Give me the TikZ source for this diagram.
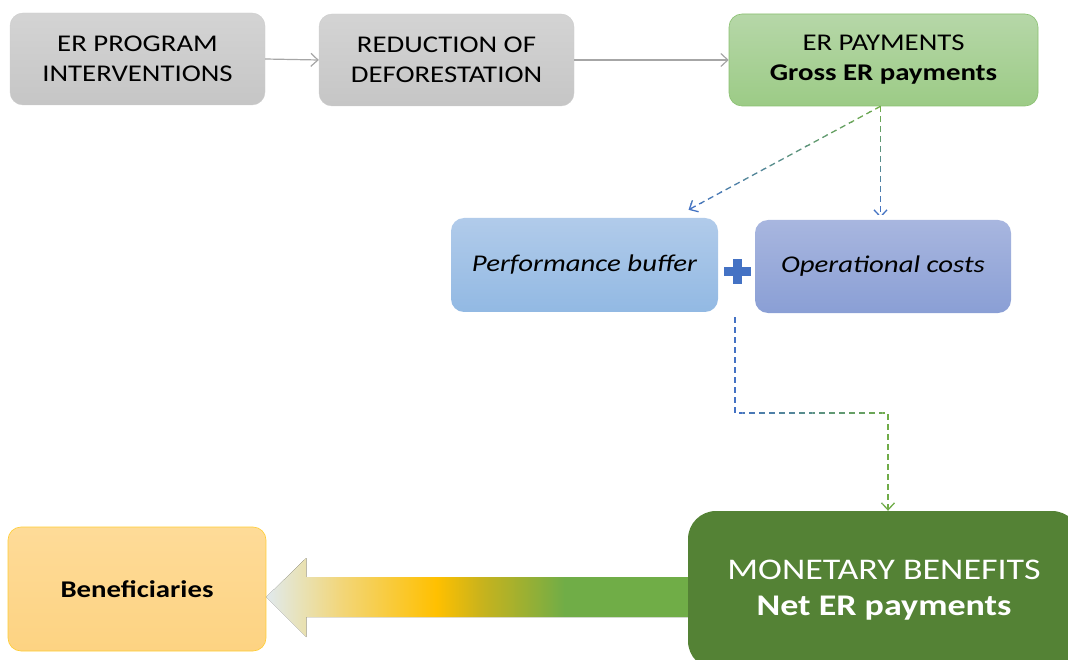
\documentclass[tikz,border=0pt]{standalone}
\usepackage{fontspec}
\setmainfont{Carlito}[FakeStretch=1.2]
\usetikzlibrary{arrows.meta,calc}
\definecolor{cgreen}{HTML}{70AD47}
\definecolor{cblue}{HTML}{4472C4}
\definecolor{cgray}{HTML}{A6A6A6}
\definecolor{darkgreen}{HTML}{548235}
\definecolor{ac1}{HTML}{E0E9EE}
\definecolor{ac2}{HTML}{E8E2B8}
\definecolor{ac3}{HTML}{F2D67A}
\definecolor{ac4}{HTML}{FFC000}
\definecolor{ac5}{HTML}{C9B31C}
\definecolor{ac6}{HTML}{A0B030}
\pgfdeclarehorizontalshading{arrowshade}{100bp}{color(0bp)=(ac1); color(25bp)=(ac1); color(28.9bp)=(ac2); color(33.6bp)=(ac3); color(44.7bp)=(ac4); color(49.8bp)=(ac5); color(54.4bp)=(ac6); color(59.5bp)=(cgreen); color(100bp)=(cgreen)}
\tikzset{
  box/.style={rounded corners=13pt, inner sep=0pt, align=center, text=black},
  graybox/.style={box, top color=gray!34, bottom color=gray!45, draw=gray!40, line width=0.4pt},
  greenbox/.style={box, top color={rgb,255:red,182;green,215;blue,168}, bottom color={rgb,255:red,156;green,203;blue,134}, draw={rgb,255:red,138;green,192;blue,112}, line width=0.6pt},
  bluebox/.style={box, top color={rgb,255:red,177;green,203;blue,234}, bottom color={rgb,255:red,146;green,185;blue,227}},
  purplebox/.style={box, top color={rgb,255:red,168;green,182;blue,223}, bottom color={rgb,255:red,138;green,159;blue,213}},
  yellowbox/.style={box, top color={rgb,255:red,254;green,219;blue,152}, bottom color={rgb,255:red,253;green,211;blue,130}, draw=ac4!80, line width=0.6pt},
  bigbox/.style={box, rounded corners=28pt, fill=darkgreen, text=white},
  solidcon/.style={draw=cgray, line width=1.2pt, -{Straight Barb[length=7pt,width=13pt]}},
  dashcon/.style={line width=1.3pt, dash pattern=on 6pt off 4pt, -{Straight Barb[length=7pt,width=13pt]}},
  txt/.style={font=\fontsize{24}{30}\selectfont},
}
\begin{document}
\begin{tikzpicture}[x=1pt,y=-1pt]
\useasboundingbox (0,0) rectangle (1068,660);
\node[graybox, txt, minimum width=255pt, minimum height=92pt] (A) at (137.5,59) {ER PROGRAM\\INTERVENTIONS};
\node[graybox, txt, minimum width=255pt, minimum height=92pt] (B) at (446.5,60) {REDUCTION OF\\DEFORESTATION};
\node[greenbox, txt, minimum width=309pt, minimum height=92pt] (C) at (883.5,60) {ER PAYMENTS\\\textbf{Gross ER payments}};
\node[bluebox, font=\fontsize{24}{29}\selectfont\itshape, minimum width=267pt, minimum height=94pt] (D) at (584.5,265) {Performance buffer};
\node[purplebox, font=\fontsize{24}{29}\selectfont\itshape, minimum width=256pt, minimum height=93pt] (E) at (883,266.5) {Operational costs};
% plus sign
\fill[cblue] (723.5,267.5) rectangle (750.5,276.5);
\fill[cblue] (732.5,259.5) rectangle (741.5,284.5);
\node[yellowbox, font=\fontsize{24}{29}\selectfont\bfseries, minimum width=258pt, minimum height=124pt] (G) at (137,589) {Beneficiaries};
% big arrow
\coordinate (tip) at ($(G.east)+(0,8)$);
\fill[shading=arrowshade] (tip) -- ++(40,-39) -- ++(0,19) -- ++(392,0) -- ++(0,40) -- ++(-392,0) -- ++(0,20) -- cycle;
\node[bigbox, font=\fontsize{30}{36}\selectfont, minimum width=392pt, minimum height=158pt] (F) at (884,590) {MONETARY BENEFITS\\\textbf{Net ER payments}};
% solid connectors
\draw[solidcon] (A.east) -- (B.west);
\draw[solidcon] (B.east) -- (C.west);
% dashed connectors with colour gradient
\coordinate (dtip) at ($(D.north)+(104,-8)$);
\coordinate (etip) at ($(C.south |- E.north)+(-3,-2)$);
\coordinate (cout) at ($(C.south)+(-3,0)$);
\foreach \i in {0,...,9}{
  \pgfmathtruncatemacro{\p}{100-\i*11}
  \begin{scope}
    \clip (600,{100+\i*11.5}) rectangle (1000,{100+(\i+1)*11.5});
    \draw[dashcon, draw=cgreen!\p!cblue] (cout) -- (dtip);
    \draw[dashcon, draw=cgreen!\p!cblue] (cout) -- (etip);
  \end{scope}
}
\coordinate (split) at (735,317);
\coordinate (turn) at (888,413);
\foreach \i in {0,...,9}{
  \pgfmathtruncatemacro{\p}{\i*11}
  \begin{scope}
    \clip ({725+\i*17.5},300) rectangle ({725+(\i+1)*17.5},530);
    \draw[dashcon, draw=cgreen!\p!cblue] (split) |- (turn) -- (turn |- F.north);
  \end{scope}
}
\end{tikzpicture}
\end{document}
